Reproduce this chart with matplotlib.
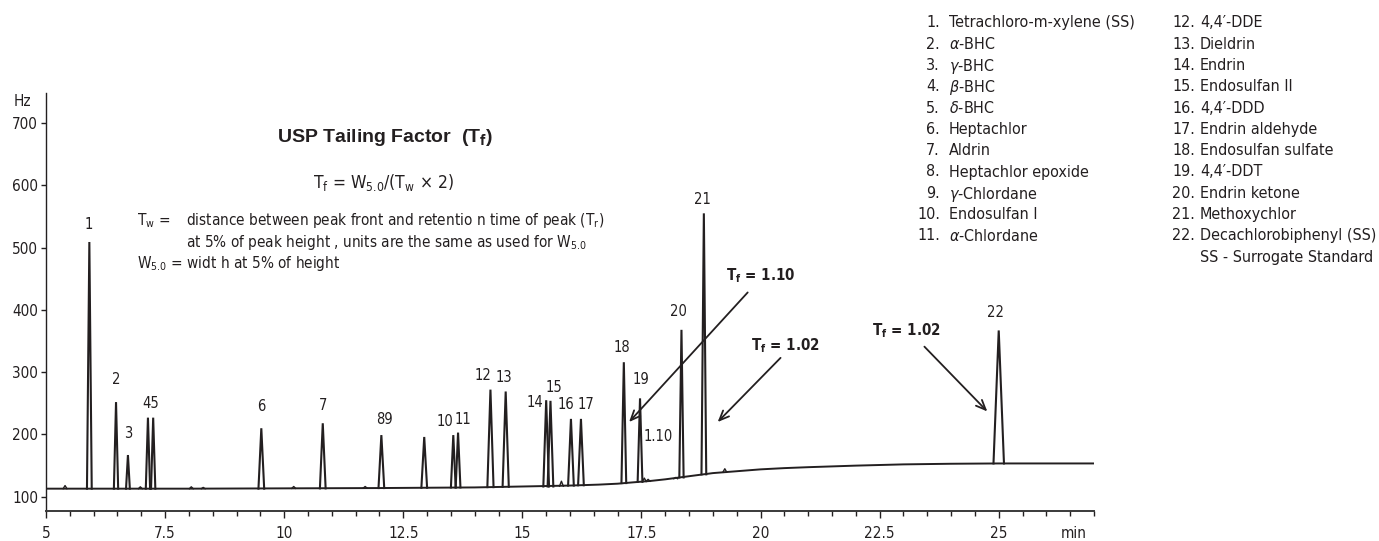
import matplotlib
matplotlib.use("Agg")
import matplotlib.pyplot as plt
import numpy as np

INK = "#231f20"

plt.rcParams["font.family"] = ["DejaVu Sans"]
plt.rcParams["font.stretch"] = "condensed"
plt.rcParams["mathtext.fontset"] = "custom"
plt.rcParams["mathtext.rm"] = "DejaVu Sans:stretch=condensed"
plt.rcParams["mathtext.it"] = "DejaVu Sans:italic:stretch=condensed"
plt.rcParams["mathtext.bf"] = "DejaVu Sans:bold:stretch=condensed"

# ---- chromatogram baseline (min, Hz) ----
base_time = [5.03, 6.0, 8.0, 10.0, 12.0, 13.0, 14.0, 15.0, 16.0, 16.6, 17.0, 17.3,
             17.7, 18.0, 18.5, 19.0, 19.5, 20.0, 20.5, 21.0, 22.0, 23.0, 24.0, 25.0,
             26.0, 27.0]
base_hz = [113, 113, 113, 113.5, 114, 114.5, 115, 116.5, 118, 119.5, 121, 123,
           125.5, 128, 133, 138, 141, 144, 146, 147.5, 150, 152, 153, 153.5,
           153.5, 153.5]

# ---- main peaks ----
peak_time = [5.91, 6.47, 6.72, 7.14, 7.25, 9.52, 10.81, 12.04, 12.94, 13.55, 13.65,
             14.33, 14.65, 15.50, 15.59, 16.02, 16.23, 17.13, 17.47, 18.34, 18.81, 25.00]
peak_top = [509, 252, 167, 227, 227, 210, 218, 199, 196, 199, 203,
            272, 269, 255, 254, 225, 225, 316, 258, 368, 555, 367]
peak_foot = [113, 113, 113, 113, 113, 113, 113.5, 114, 114.5, 115, 115,
             115.5, 116, 116.5, 116.5, 118, 118.5, 122, 124, 131, 136, 153.5]
peak_width = [0.10, 0.09, 0.08, 0.09, 0.09, 0.12, 0.12, 0.12, 0.12, 0.10, 0.10,
              0.13, 0.13, 0.12, 0.12, 0.12, 0.12, 0.10, 0.10, 0.09, 0.10, 0.22]
peak_label = ["1", "2", "3", "45", "", "6", "7", "89", "", "10", "11",
              "12", "13", "14", "15", "16", "17", "18", "19", "20", "21", "22"]

# ---- small humps on the baseline ----
bump_time = [5.40, 6.98, 8.05, 8.30, 10.20, 11.70, 15.82, 17.56, 17.64, 18.22, 19.25]
bump_top = [118, 116, 116, 115, 116.5, 116.5, 125, 130, 128, 131, 145]
bump_foot = [113, 113, 113, 113, 113.5, 114, 117, 124.5, 125, 129, 139.5]

# ---- tailing factor callouts ----
tf_values = ["1.10", "1.02", "1.02"]
tf_tail = [(19.73, 428), (20.42, 323), (23.44, 341)]
tf_head = [(17.24, 220), (19.10, 220), (24.76, 237)]
tf_text_at = [(20.0, 458), (20.52, 346), (23.06, 371)]

# ---- compound list ----
left_no = ["1.", "2.", "3.", "4.", "5.", "6.", "7.", "8.", "9.", "10.", "11."]
left_names = ["Tetrachloro-m-xylene (SS)", r"$\alpha$-BHC", r"$\gamma$-BHC",
              r"$\beta$-BHC", r"$\delta$-BHC", "Heptachlor", "Aldrin",
              "Heptachlor epoxide", r"$\gamma$-Chlordane", "Endosulfan I",
              r"$\alpha$-Chlordane"]
right_no = ["12.", "13.", "14.", "15.", "16.", "17.", "18.", "19.", "20.", "21.", "22."]
right_names = ["4,4\u2032-DDE", "Dieldrin", "Endrin", "Endosulfan II", "4,4\u2032-DDD",
               "Endrin aldehyde", "Endosulfan sulfate", "4,4\u2032-DDT",
               "Endrin ketone", "Methoxychlor", "Decachlorobiphenyl (SS)"]

xticks = [5, 7.5, 10, 12.5, 15, 17.5, 20, 22.5, 25]
xtick_labels = ["5", "7.5", "10", "12.5", "15", "17.5", "20", "22.5", "25"]
yticks = [100, 200, 300, 400, 500, 600, 700]

# label offsets from the peak apex, in pixels
label_offset = [(-1, 19), (0, 24), (0, 23), (2.4, 16), (0, 0), (0, 23), (0, 19),
                (3.3, 17.4), (0, 0), (-8.5, 15.6), (5, 15), (-7, 16), (-2, 15.6),
                (-11.4, -1), (3.8, 14.7), (-5.2, 15.6), (4.7, 15.6), (-2.4, 15.8),
                (1, 20), (-2.8, 19.6), (-1, 15.8), (-2.8, 19.6)]

FS_TICK = 11
FS_PEAK = 10.5
FS_LIST = 11.5
FS_TF = 10.8
FS_NOTE = 11

W, H = 1379, 541
fig = plt.figure(figsize=(W / 100, H / 100), dpi=100)
ax = fig.add_axes([46 / W, 1 - 510.6 / H, (1094 - 46) / W, (510.6 - 93.3) / H])

ax.plot(base_time, base_hz, color=INK, lw=1.4, solid_joinstyle="round")
for t, top, foot in zip(bump_time, bump_top, bump_foot):
    ax.plot([t - 0.04, t, t + 0.04], [foot, top, foot], color=INK, lw=1.0)
for t, top, foot, w in zip(peak_time, peak_top, peak_foot, peak_width):
    ax.plot([t - w / 2, t, t + w / 2], [foot, top, foot], color=INK, lw=1.5,
            solid_joinstyle="miter")

for i, lab in enumerate(peak_label):
    if not lab:
        continue
    ax.annotate(lab, (peak_time[i], peak_top[i]), xytext=label_offset[i],
                textcoords="offset pixels", ha="center", va="center_baseline",
                fontsize=FS_PEAK, color=INK)
ax.annotate("1.10", (peak_time[18], peak_top[18]), xytext=(18.5, -37),
            textcoords="offset pixels", ha="center", va="center_baseline",
            fontsize=FS_PEAK, color=INK)

for val, tail, head, pos in zip(tf_values, tf_tail, tf_head, tf_text_at):
    ax.annotate("", xy=head, xytext=tail,
                arrowprops=dict(arrowstyle="->,head_length=0.7,head_width=0.3",
                                lw=1.3, color=INK, shrinkA=0, shrinkB=0))
    ax.text(pos[0], pos[1], r"T$_\mathbf{f}$ = " + val, ha="center",
            va="center_baseline", fontsize=FS_TF, fontweight="bold", color=INK)

ax.set_xlim(5, 27)
ax.set_ylim(77.8, 747.7)
ax.set_xticks(xticks)
ax.set_xticklabels(xtick_labels)
ax.set_xticks(np.arange(5, 27.01, 0.5), minor=True)
ax.set_yticks(yticks)
ax.set_yticklabels([str(v) for v in yticks])
ax.tick_params(axis="x", which="major", length=5, width=1, pad=6, labelsize=FS_TICK,
               colors=INK)
ax.tick_params(axis="x", which="minor", length=3.5, width=1, colors=INK)
ax.tick_params(axis="y", length=3.6, width=1, pad=2, labelsize=FS_TICK, colors=INK)
for side in ("top", "right"):
    ax.spines[side].set_visible(False)
ax.spines["bottom"].set_linewidth(1.4)
ax.spines["left"].set_linewidth(1.0)
ax.spines["bottom"].set_color("#3a3a3a")
ax.spines["left"].set_color(INK)
ax.text(26.58, -0.036, "min", transform=ax.get_xaxis_transform(), ha="center",
        va="top", fontsize=FS_TICK, color=INK)

def fx(px):
    return px / W

def fy(py):
    return 1 - py / H

fig.text(fx(22), fy(100), "Hz", ha="center", va="center_baseline", fontsize=FS_TICK, color=INK)
fig.text(fx(385), fy(134), r"USP Tailing Factor  (T$_\mathbf{f}$)", ha="center",
         va="center_baseline", fontsize=14, fontweight="bold", color=INK,
         family=["Liberation Sans", "DejaVu Sans"], fontstretch="normal")
fig.text(fx(383), fy(180), r"T$_\mathrm{f}$ = W$_\mathrm{5.0}$/(T$_\mathrm{w}$ × 2)",
         ha="center", va="center_baseline", fontsize=12.5, color=INK)
fig.text(fx(136.6), fy(218.5), r"T$_\mathrm{w}$ =", ha="left", va="center_baseline",
         fontsize=FS_NOTE, color=INK)
fig.text(fx(186), fy(218.5),
         r"distance between peak front and retentio n time of peak (T$_\mathrm{r}$)",
         ha="left", va="center_baseline", fontsize=FS_NOTE, color=INK)
fig.text(fx(186), fy(239.6),
         r"at 5% of peak height , units are the same as used for W$_\mathrm{5.0}$",
         ha="left", va="center_baseline", fontsize=FS_NOTE, color=INK)
fig.text(fx(136.6), fy(261), r"W$_\mathrm{5.0}$ = widt h at 5% of height",
         ha="left", va="center_baseline", fontsize=FS_NOTE, color=INK)

row0, row_gap = 21.4, 21.3
for i, (no, name) in enumerate(zip(left_no, left_names)):
    y = fy(row0 + row_gap * i)
    fig.text(fx(940), y, no, ha="right", va="center_baseline", fontsize=FS_LIST, color=INK)
    fig.text(fx(949), y, name, ha="left", va="center_baseline", fontsize=FS_LIST, color=INK)
for i, (no, name) in enumerate(zip(right_no, right_names)):
    y = fy(row0 + row_gap * i)
    fig.text(fx(1172), y, no, ha="left", va="center_baseline", fontsize=FS_LIST, color=INK)
    fig.text(fx(1200), y, name, ha="left", va="center_baseline", fontsize=FS_LIST, color=INK)
fig.text(fx(1200), fy(row0 + row_gap * 11), "SS - Surrogate Standard", ha="left",
         va="center_baseline", fontsize=FS_LIST, color=INK)

fig.savefig("out.png", dpi=100, facecolor="white")
